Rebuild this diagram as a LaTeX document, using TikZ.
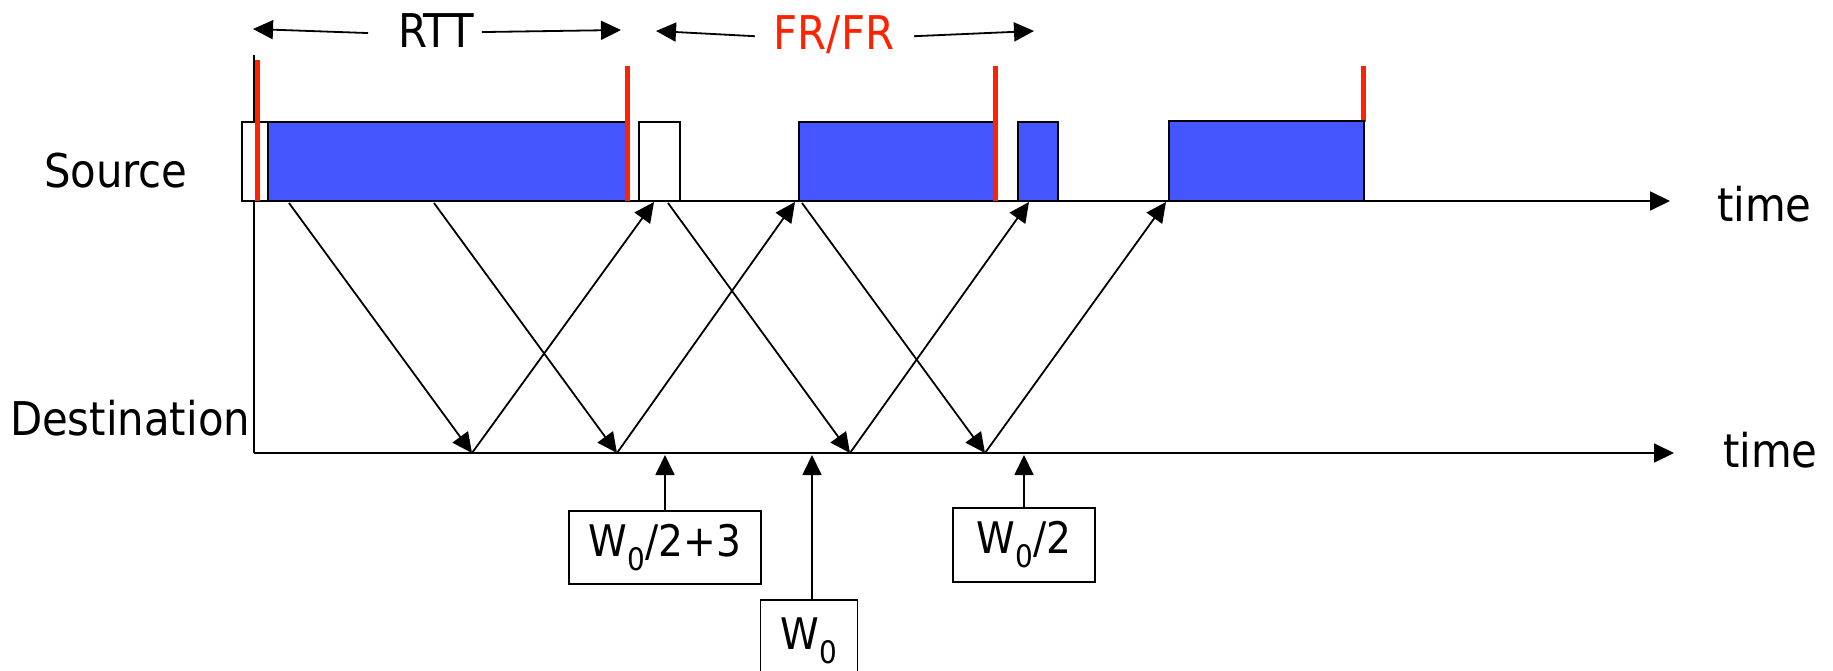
\documentclass[tikz,border=0pt]{standalone}
\usepackage{fontspec}
\setmainfont{DejaVu Sans Condensed}
\usetikzlibrary{arrows.meta}
\definecolor{pblue}{RGB}{69,85,255}
\definecolor{pred}{RGB}{255,34,0}
\newcommand{\lowsub}[1]{\raisebox{-0.32em}{\fontsize{31}{31}\selectfont #1}}
\begin{document}
\begin{tikzpicture}[x=1pt,y=-1pt,line width=1.8pt,
  arr/.style={-{Triangle[length=20pt,width=19pt]}},
  pkt/.style={draw=black,fill=pblue,line width=1.6pt},
  ackbox/.style={draw=black,fill=white,line width=1.6pt},
  redbar/.style={draw=pred,line width=5pt},
  lbl/.style={font=\fontsize{46.5}{56}\selectfont,inner sep=0pt,outer sep=0pt},
  wbox/.style={draw,line width=1.6pt,font=\fontsize{43.5}{52}\selectfont,inner sep=0pt,minimum height=73pt}]
\useasboundingbox (0,0) rectangle (1833,671);

% axes
\coordinate (vtop) at (254,55);
\coordinate (dorig) at (254,453);
\coordinate (dend) at (1674,453);
\coordinate (sorig) at (242,201);
\coordinate (send) at (1670,201);
\draw (vtop) -- (dorig);
\draw[arr] (dorig) -- (dend);
\draw[arr] (sorig) -- (send);

% red bar behind last packet
\draw[redbar] (1363,66) -- (1363,122);

% packets
\draw[ackbox] (242,122) rectangle (268,201);
\draw[pkt] (268,122) rectangle (626,201);
\draw[ackbox] (639,122) rectangle (680,201);
\draw[pkt] (799,122) rectangle (994,201);
\draw[pkt] (1018,122) rectangle (1058,201);
\draw[pkt] (1169,121) rectangle (1364,201);

% red bars
\draw[redbar] (257,60) -- (257,201);
\draw[redbar] (627,66) -- (627,201);
\draw[redbar] (995,66) -- (995,201);

% labels
\node[lbl,anchor=base west] (src) at (44,188) {Source};
\node[lbl,anchor=base west] (dst) at (10,435) {Destination};
\node[lbl,anchor=base west] (t1) at (1717,222) {time};
\node[lbl,anchor=base west] (t2) at (1723,467) {time};
\node[lbl,anchor=base] (rtt) at (436,48) {RTT};
\node[lbl,anchor=base,text=pred] (frfr) at (834,50) {FR/FR};

% RTT and FR/FR span arrows
\coordinate (rttL) at (253,29);
\coordinate (rttR) at (621,30);
\coordinate (frL) at (656,31);
\coordinate (frR) at (1034,31);
\draw[arr] ([xshift=-30pt,yshift=-2pt]rtt.west) -- (rttL);
\draw[arr] ([xshift=8pt,yshift=-1pt]rtt.east) -- (rttR);
\draw[arr] ([xshift=-19pt,yshift=-1pt]frfr.west) -- (frL);
\draw[arr] ([xshift=20pt,yshift=-1pt]frfr.east) -- (frR);

% packets / acks crossing
\coordinate (s1) at (289,203); \coordinate (d1) at (472,453); \coordinate (a1) at (654,202);
\coordinate (s2) at (434,203); \coordinate (d2) at (617,453); \coordinate (a2) at (795,202);
\coordinate (s3) at (668,203); \coordinate (d3) at (850,453); \coordinate (a3) at (1029,202);
\coordinate (s4) at (802,203); \coordinate (d4) at (985,453); \coordinate (a4) at (1166,202);
\foreach \i in {1,2,3,4}{
  \draw[arr] (s\i) -- (d\i);
  \draw[arr] (d\i) -- (a\i);
}

% window boxes
\node[wbox,minimum width=192pt] (wa) at (665,547.5) {W\lowsub{0}/2+3};
\node[wbox,minimum width=97pt,minimum height=82pt,anchor=north] (wb) at (809,599) {W\lowsub{0}};
\node[wbox,minimum width=142pt,minimum height=74pt] (wc) at (1024,545) {W\lowsub{0}/2};
\coordinate (pa) at (665,455);
\coordinate (pb) at (812,455);
\coordinate (pc) at (1024,455);
\draw[arr] (wa.north) -- (pa);
\draw[arr] ([xshift=3pt]wb.north) -- (pb);
\draw[arr] (wc.north) -- (pc);
\end{tikzpicture}
\end{document}
